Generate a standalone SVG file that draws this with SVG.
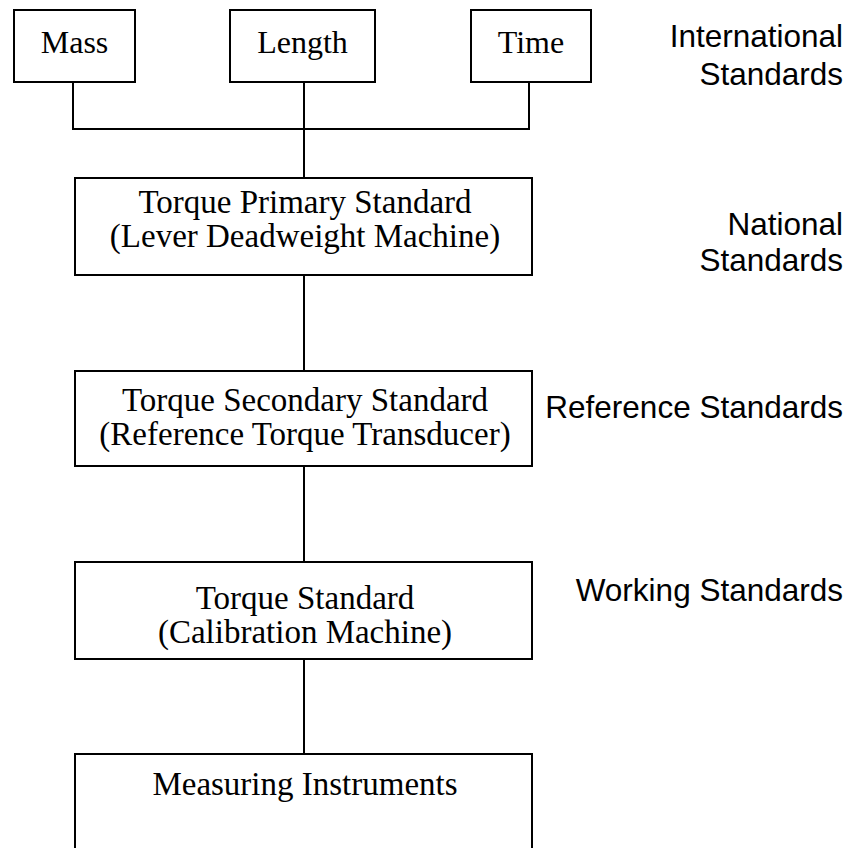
<svg xmlns="http://www.w3.org/2000/svg" width="851" height="848" viewBox="0 0 851 848">
  <style>
    .box { fill: #ffffff; stroke: #000000; stroke-width: 2; }
    .wire { fill: none; stroke: #000000; stroke-width: 2; }
    .serif { font-family: "Liberation Serif", "Times New Roman", serif; font-size: 32px; fill: #000000; text-anchor: middle; }
    .chain { font-size: 33px; }
    .sans { font-family: "Liberation Sans", Arial, sans-serif; font-size: 31.5px; fill: #000000; text-anchor: end; }
  </style>
  <rect width="851" height="848" fill="#ffffff"/>

  <!-- connectors -->
  <g id="connectors" class="wire">
    <path d="M73,82 V129 H529 V82"/>
    <path d="M304,82 V178"/>
    <path d="M304,275 V371"/>
    <path d="M304,466 V562"/>
    <path d="M304,659 V754"/>
  </g>

  <!-- base units -->
  <g id="mass">
    <rect class="box" x="14" y="10" width="121" height="72"/>
    <text class="serif" x="74.5" y="53">Mass</text>
  </g>
  <g id="length">
    <rect class="box" x="230" y="10" width="145" height="72"/>
    <text class="serif" x="302.5" y="53">Length</text>
  </g>
  <g id="time">
    <rect class="box" x="471" y="10" width="120" height="72"/>
    <text class="serif" x="531" y="53">Time</text>
  </g>

  <!-- standards chain -->
  <g id="primary">
    <rect class="box" x="75" y="178" width="457" height="97"/>
    <text class="serif chain" x="305" y="213">Torque Primary Standard</text>
    <text class="serif chain" x="305" y="247">(Lever Deadweight Machine)</text>
  </g>
  <g id="secondary">
    <rect class="box" x="75" y="371" width="457" height="95"/>
    <text class="serif chain" x="305" y="411">Torque Secondary Standard</text>
    <text class="serif chain" x="305" y="445">(Reference Torque Transducer)</text>
  </g>
  <g id="working">
    <rect class="box" x="75" y="562" width="457" height="97"/>
    <text class="serif chain" x="305" y="609">Torque Standard</text>
    <text class="serif chain" x="305" y="643">(Calibration Machine)</text>
  </g>
  <g id="instruments">
    <rect class="box" x="75" y="754" width="457" height="110"/>
    <text class="serif chain" x="305" y="795">Measuring Instruments</text>
  </g>

  <!-- level labels -->
  <g id="level-labels">
    <text class="sans" x="843" y="47">International</text>
    <text class="sans" x="843" y="85">Standards</text>
    <text class="sans" x="843" y="235">National</text>
    <text class="sans" x="843" y="271">Standards</text>
    <text class="sans" x="843" y="418">Reference Standards</text>
    <text class="sans" x="843" y="601">Working Standards</text>
  </g>
</svg>
